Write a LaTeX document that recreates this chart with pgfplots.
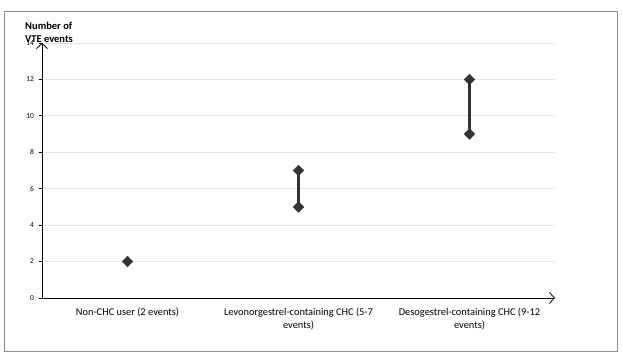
\documentclass[border=0pt]{standalone}
\usepackage{fontspec}
\setmainfont{Carlito}
\usepackage{pgfplots}
\pgfplotsset{compat=1.18}
\usetikzlibrary{arrows.meta}
\definecolor{rangecol}{HTML}{333333}
\begin{document}
\begin{tikzpicture}[x=1pt,y=1pt]
\path[use as bounding box] (0,0) rectangle (622,363);
\draw[color=black!45, line width=1pt] (4.5,11.5) rectangle (617.5,351.5);
\begin{axis}[
  at={(42pt,65pt)}, anchor=south west,
  scale only axis, width=513pt, height=255pt,
  xmin=-0.5, xmax=2.5, ymin=0, ymax=14,
  axis lines=left,
  axis line style={line width=0.9pt, -{Straight Barb[length=5pt,width=11pt,line width=0.8pt]}},
  ytick={0,2,...,14},
  ymajorgrids, grid style={black!10, line width=0.8pt},
  y tick style={black, line width=0.8pt},
  tick align=outside,
  major tick length=3.5pt,
  /pgf/number format/assume math mode=true,
  yticklabel style={font=\fontsize{7.5}{9}\selectfont, xshift=-1pt},
  xtick={0,1,2},
  xticklabels={Non-CHC user (2 events),Levonorgestrel-containing CHC (5-7\\events),Desogestrel-containing CHC (9-12\\events)},
  xticklabel style={align=center, font=\fontsize{10.4}{13}\selectfont, yshift=-3pt},
  x tick style={draw=none},
  extra x ticks={0.5,1.5},
  extra x tick labels={},
  extra x tick style={grid=none, tick style={draw=black, line width=0.8pt}, major tick length=4pt},
  clip=false,
]
\addplot[line width=3.8pt, color=rangecol, mark=square*, mark size=3.8pt, mark options={rotate=45, solid, line width=0.3pt}] coordinates {(0,2)};
\addplot[line width=3.8pt, color=rangecol, mark=square*, mark size=3.8pt, mark options={rotate=45, solid, line width=0.3pt}] coordinates {(1,5) (1,7)};
\addplot[line width=3.8pt, color=rangecol, mark=square*, mark size=3.8pt, mark options={rotate=45, solid, line width=0.3pt}] coordinates {(2,9) (2,12)};
\end{axis}
\node[anchor=base west, align=left, inner sep=0pt, font=\bfseries\fontsize{10.5}{13}\selectfont] at (25,320) {Number of\\VTE events};
\end{tikzpicture}
\end{document}
